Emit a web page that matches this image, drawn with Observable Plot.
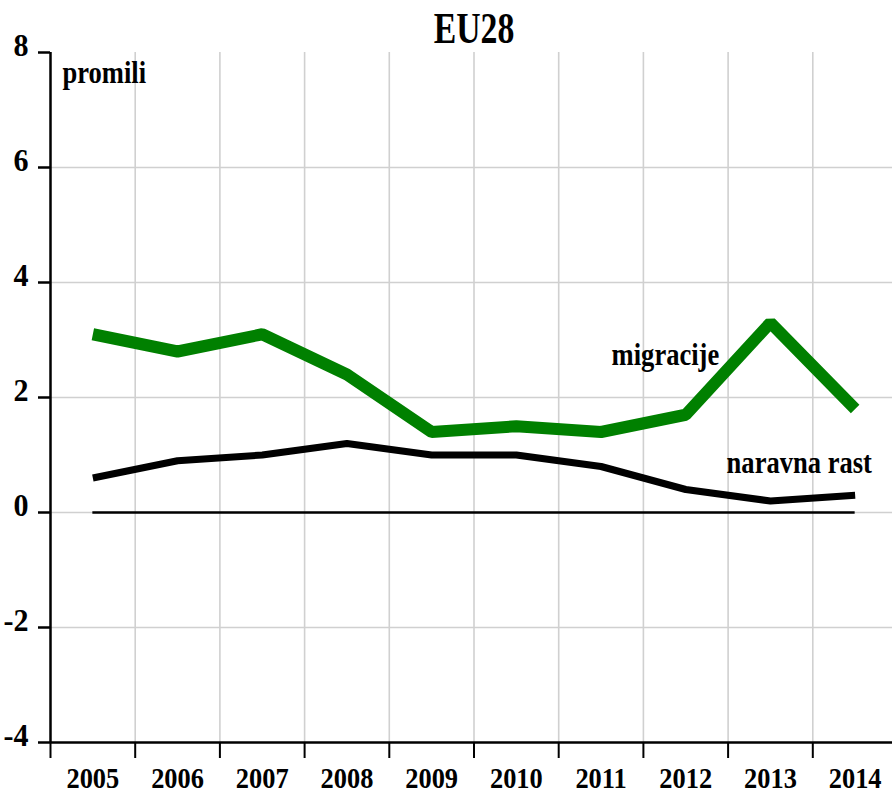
<!DOCTYPE html>
<html>
<head>
<meta charset="utf-8">
<script src="https://cdn.jsdelivr.net/npm/d3@7"></script>
<script src="https://cdn.jsdelivr.net/npm/@observablehq/plot@0.6"></script>
<style>
  html, body { margin: 0; padding: 0; background: #fff; }
  #chart svg { display: block; }
</style>
</head>
<body>
<div id="chart"></div>
<script>
const years = [2005, 2006, 2007, 2008, 2009, 2010, 2011, 2012, 2013, 2014];
const migracije = [3.1, 2.8, 3.1, 2.4, 1.4, 1.5, 1.4, 1.7, 3.3, 1.8];
const naravnaRast = [0.6, 0.9, 1.0, 1.2, 1.0, 1.0, 0.8, 0.4, 0.2, 0.3];
const yTicks = [-4, -2, 0, 2, 4, 6, 8];
const yGrid = [-2, 0, 2, 4, 6];
const title = "EU28";
const unitLabel = "promili";
const seriesLabels = [
  {text: "migracije", year: 2011.76, value: 2.56},
  {text: "naravna rast", year: 2013.34, value: 0.68}
];

const xDomain = [years[0] - 0.5, years[years.length - 1] + 0.5];
const yDomain = [yTicks[0], yTicks[yTicks.length - 1]];
const boundaries = years.map(y => y - 0.5);
const innerBoundaries = years.slice(0, -1).map(y => y + 0.5);

const migData = years.map((y, i) => ({year: y, value: migracije[i]}));
const natData = years.map((y, i) => ({year: y, value: naravnaRast[i]}));

const font = "'Liberation Serif', 'Times New Roman', serif";

const chart = Plot.plot({
  width: 892,
  height: 795,
  marginLeft: 50,
  marginRight: -5,
  marginTop: 52,
  marginBottom: 53,
  style: {fontFamily: font, fontWeight: "bold", fontSize: "28px", color: "#000", background: "#fff", overflow: "hidden"},
  x: {type: "linear", domain: xDomain},
  y: {type: "linear", domain: yDomain},
  marks: [
    // gridlines
    Plot.ruleY(yGrid, {stroke: "#d0d0d0", strokeWidth: 1.6}),
    Plot.ruleX(innerBoundaries, {stroke: "#d0d0d0", strokeWidth: 1.6}),
    // zero line
    Plot.ruleY([0], {x1: years[0], x2: years[years.length - 1], stroke: "#000", strokeWidth: 2.5}),
    // series
    Plot.line(natData, {x: "year", y: "value", stroke: "#000", strokeWidth: 7, strokeLinejoin: "miter", strokeLinecap: "butt"}),
    Plot.line(migData, {x: "year", y: "value", stroke: "#008000", strokeWidth: 12, strokeLinejoin: "miter", strokeLinecap: "butt"}),
    // axes lines
    Plot.ruleX([xDomain[0]], {stroke: "#000", strokeWidth: 2.5}),
    Plot.ruleY([yDomain[0]], {stroke: "#000", strokeWidth: 2.5}),
    // y axis tick marks
    Plot.axisY({ticks: yTicks, tickSize: 12, tickFormat: () => "", strokeWidth: 2.5, label: null}),
    // y axis labels
    Plot.axisY({ticks: yTicks, tickSize: 0, tickPadding: 22, tickFormat: d => String(d), dy: -6,
      fontSize: 31, fontWeight: "bold", fontFamily: font, label: null, className: "ylab"}),
    // x axis tick marks at boundaries
    Plot.axisX({ticks: boundaries, tickSize: 16, tickFormat: () => "", strokeWidth: 2, label: null}),
    // x axis labels at centers
    Plot.axisX({ticks: years, tickSize: 0, tickPadding: 24, tickFormat: d => String(d),
      fontSize: 30, fontWeight: "bold", fontFamily: font, label: null, className: "xlab"}),
    // labels
    Plot.text([unitLabel], {frameAnchor: "top-left", dx: 12, dy: 30, lineAnchor: "bottom", textAnchor: "start",
      fontSize: 32, fontWeight: "bold", fontFamily: font, fill: "#000", className: "unitlab"}),
    Plot.text(seriesLabels, {x: "year", y: "value", text: "text", lineAnchor: "bottom", textAnchor: "middle",
      fontSize: 32, fontWeight: "bold", fontFamily: font, fill: "#000", className: "serieslab"}),
    Plot.text([title], {frameAnchor: "top", dy: -10, lineAnchor: "bottom", textAnchor: "middle",
      fontSize: 45, fontWeight: "bold", fontFamily: font, fill: "#000", className: "chart-title"})
  ]
});

document.getElementById("chart").appendChild(chart);

// condense glyphs horizontally around each text's anchor, as in the reference
function condense(cls, sx) {
  chart.querySelectorAll("." + cls + " text").forEach(t => {
    const tr = t.getAttribute("transform") || "";
    t.setAttribute("transform", tr + ` scale(${sx},1)`);
  });
}
condense("chart-title", 0.75);
condense("serieslab", 0.83);
condense("unitlab", 0.83);
condense("xlab", 0.88);
condense("ylab", 0.97);
</script>
</body>
</html>
